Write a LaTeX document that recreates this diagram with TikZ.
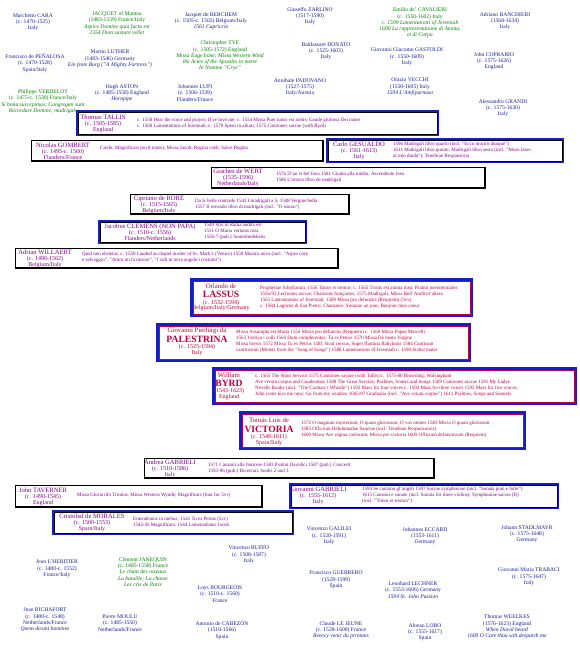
\documentclass[tikz,border=0pt]{standalone}
\usepackage{fontspec}
\setmainfont{Liberation Serif}
\definecolor{cblue}{RGB}{24,32,150}
\definecolor{cgreen}{RGB}{0,130,0}
\definecolor{cpurp}{RGB}{130,0,140}
\definecolor{ccrim}{RGB}{190,0,60}
\definecolor{cbord}{RGB}{20,30,200}
\newcommand\myft{\fontsize{5.6}{6.3}\selectfont}
\newcommand\mydet{\fontsize{5}{6}\selectfont}
\newcommand\mybd{\fontsize{6}{6}\selectfont}
\newcommand\mybn{\fontsize{6.6}{6}\selectfont}
\newcommand\myfirst{\fontsize{6.8}{6.8}\selectfont}
\newcommand\mybig{\fontsize{9.6}{9.6}\selectfont\bfseries}
\begin{document}
\begin{tikzpicture}[x=1pt,y=-1pt,
  free/.style={align=center,inner sep=0pt,text=cblue,font=\myft},
  gfree/.style={free,text=cgreen},
  bname/.style={align=center,inner sep=0pt,text=cpurp,font=\mybd},
  btext/.style={align=left,anchor=west,inner sep=0pt,text=cpurp,font=\mydet},
  rname/.style={align=center,inner sep=0pt,text=ccrim,font=\mybd},
  rtext/.style={align=left,anchor=west,inner sep=0pt,text=ccrim,font=\mydet},
  plainbox/.style={draw=black,line width=1.2pt,anchor=north west,inner sep=0pt},
  bluebox/.style={draw=cbord,line width=2.6pt,anchor=north west,inner sep=0pt},
  inblack/.style={draw=black,line width=0.8pt},
  inred/.style={draw=ccrim,line width=0.9pt}]
\useasboundingbox (0,0) rectangle (579,651);
\fill[white] (0,0) rectangle (579,651);

% ---------- free names, top ----------
\node[free] (cara) at (33,22) {Marchetto CARA\\(c. 1470-1525)\\Italy};
\node[gfree] (jacq) at (117,23) {JACQUET of Mantua\\(1483-1559) France/Italy\\\textit{Aspice Domine quia facta est}\\\textit{1554 Dum vastare vellet}};
\node[free] (berch) at (211,21) {Jacquet de BERCHEM\\(c. 1505-c. 1565) Belgium/Italy\\\textit{1561 Capriccio}};
\node[free] (zarl) at (310,16) {Gioseffo ZARLINO\\(1517-1590)\\Italy};
\node[gfree] (caval) at (420,23) {Emilio de' CAVALIERI\\(c. 1550-1602) Italy\\\textit{c. 1599 Lamentations of Jeremiah}\\\textit{1600 La rappresentatione di Anima,}\\\textit{et di Corpo}};
\node[free] (banch) at (505,21) {Adriano BANCHIERI\\(1568-1634)\\Italy};
\node[free] (penal) at (35,63) {Francisco de PEÑALOSA\\(c. 1470-1528)\\Spain/Italy};
\node[free] (luth) at (110,59) {Martin LUTHER\\(1483-1546) Germany\\\textit{Ein feste Burg ("A Mighty Fortress")}};
\node[gfree] (tye) at (220,56) {Christopher TYE\\(c. 1505-1572) England\\\textit{Missa Euge bone; Missa Western Wind}\\\textit{the Actes of the Apostles in metre}\\\textit{In Nomine "Crye"}};
\node[free] (donato) at (326,51) {Baldassare DONATO\\(c. 1525-1603)\\Italy};
\node[free] (gast) at (407,57) {Giovanni Giacomo GASTOLDI\\(c. 1550-1609)\\Italy};
\node[free] (copr) at (494,61) {John COPRARIO\\(c. 1575-1626)\\England};
\node[gfree] (verd) at (43,101.5) {Philippe VERDELOT\\(c. 1475-c. 1530) France/Italy\\\textit{Si bona suscepimus; Congregati sunt}\\\textit{Recordare Domine; madrigals}};
\node[free] (aston) at (122,93) {Hugh ASTON\\(c. 1485-1558) England\\\textit{Hornpipe}};
\node[free] (lupi) at (195,93) {Johannes LUPI\\(c. 1506-1539)\\Flanders/France};
\node[free] (padov) at (300,87) {Annibale PADOVANO\\(1527-1575)\\Italy/Austria};
\node[free] (vecchi) at (410,87) {Orazio VECCHI\\(1550-1605) Italy\\\textit{1594 L'Amfiparnaso}};
\node[free] (grandi) at (503,108) {Alessandro GRANDI\\(c. 1575-1630)\\Italy};

% ---------- boxes ----------
% Tallis
\node[bluebox,minimum width=360.4pt,minimum height=23.4pt] (tallisB) at (76.3,110.3) {};
\draw[inblack] ([shift={(1.7pt,-1.7pt)}]tallisB.north west) rectangle ([shift={(-1.7pt,1.7pt)}]tallisB.south east);
\node[bname] (tallisN) at (103,124) {{\mybn Thomas TALLIS}\\(c. 1505-1585)\\England};
\node[btext] (tallisT) at (137,123) {c. 1550 Hear the voice and prayer; If ye love me; c. 1554 Missa Puer natus est nobis; Gaude gloriosa Dei mater\\c. 1560 Lamentations of Jeremiah; c. 1570 Spem in alium; 1575 Cantiones sacrae (with Byrd)};

% Gombert
\node[plainbox,minimum width=291.8pt,minimum height=20.8pt] (gombB) at (30.6,139.6) {};
\node[bname] (gombN) at (63,151.5) {{\mybn Nicolas GOMBERT}\\(c. 1495-c. 1560)\\Flanders/France};
\node[btext] (gombT) at (100,148.5) {Credo; Magnificats (on 8 tones); Missa Jacob; Regina caeli; Salve Regina};

% Gesualdo
\node[bluebox,minimum width=235.4pt,minimum height=22.4pt] (gesB) at (326.3,138.3) {};
\draw[inblack] ([shift={(1.7pt,-1.7pt)}]gesB.north west) rectangle ([shift={(-1.7pt,1.7pt)}]gesB.south east);
\node[bname] (gesN) at (359,151) {{\mybn Carlo GESUALDO}\\(c. 1561-1613)\\Italy};
\node[btext] (gesT) at (393,150) {1596 Madrigali libro quarto (incl. "Ecco morirò dunque")\\1611 Madrigali libro quinto; Madrigali libro sesto (incl. "Moro lasso\\al mio duolo"); Tenebrae Responsoria};

% Wert
\node[plainbox,minimum width=273.8pt,minimum height=20.8pt] (wertB) at (210.6,166.6) {};
\node[bname] (wertN) at (238,178) {{\mybn Giaches de WERT}\\(1535-1596)\\Netherlands/Italy};
\node[btext] (wertT) at (276,177) {1576 D'un sì bel foco 1581 Giunto alla tomba; Ascendente Jesu\\1586 L'ottavo libro de madrigali};

% Rore
\node[plainbox,minimum width=218.8pt,minimum height=19.8pt] (roreB) at (129.6,193.6) {};
\node[bname] (roreN) at (159,205) {{\mybn Cipriano de RORE}\\(c. 1515-1565)\\Belgium/Italy};
\node[btext] (roreT) at (195,204.5) {Da le belle contrade 1542 I madrigali a 5; 1548 Vergine bella\\1557 Il secondo libro di madrigali (incl. "O sonno")};

% Clemens
\node[bluebox,minimum width=206.4pt,minimum height=21.4pt] (clemB) at (98.3,220.3) {};
\draw[inblack] ([shift={(1.7pt,-1.7pt)}]clemB.north west) rectangle ([shift={(-1.7pt,1.7pt)}]clemB.south east);
\node[bname] (clemN) at (150,232.5) {{\mybn Jacobus CLEMENS (NON PAPA)}\\(c. 1510-c. 1556)\\Flanders/Netherlands};
\node[btext] (clemT) at (204,231.5) {1549 Vox in Rama audita est\\1551 O Maria vernans rosa\\1556-7 (pub.) Souterliedekens};

% Willaert
\node[plainbox,minimum width=322.8pt,minimum height=19.8pt] (willB) at (14.6,247.6) {};
\node[bname] (willN) at (45,259) {{\mybn Adrian WILLAERT}\\(c. 1490-1562)\\Belgium/Italy};
\node[btext] (willT) at (82,257.5) {Quid non ebrietas; c. 1550 Lauded as chapel master of St. Mark's (Venice) 1559 Musica nova (incl. "Aspro core\\e selvaggio", "Amor mi fa morire", "I vidi in terra angelici costumi")};

% Lassus
\node[bluebox,minimum width=280.4pt,minimum height=36.4pt] (lasB) at (190.3,278.3) {};
\draw[inred] ([shift={(2.8pt,-2.8pt)}]lasB.north west) rectangle ([shift={(-2.8pt,2.8pt)}]lasB.south east);
\node[rname,font=\myfirst] (lasN1) at (221,286) {Orlando de};
\node[rname,font=\mybig] (lasN2) at (221,294.5) {LASSUS};
\node[rname] (lasN3) at (221,303) {(c. 1532-1594)};
\node[rname] (lasN4) at (221,308.5) {Belgium/Italy/Germany};
\node[rtext] (lasT) at (260,297.5) {Prophetiae Sibyllarum; 1556 Timor et tremor; c. 1565 Tristis est anima mea; Psalmi poenitentiales\\1556/92 Lectiones sacrae; Chansons françaises; 1575 Madrigali; Missa Bell'Amfitrit'altera\\1565 Lamentations of Jeremiah; 1589 Missa pro defunctis (Requiem) (5vv)\\c. 1584 Lagrime di San Pietro; Chansons: Susanne un jour; Bonjour mon coeur};

% Palestrina
\node[bluebox,minimum width=312.4pt,minimum height=36.4pt] (palB) at (156.3,323.3) {};
\draw[inred] ([shift={(2.8pt,-2.8pt)}]palB.north west) rectangle ([shift={(-2.8pt,2.8pt)}]palB.south east);
\node[rname,font=\myfirst] (palN1) at (197,330.5) {Giovanni Pierluigi da};
\node[rname,font=\mybig] (palN2) at (197,339.5) {PALESTRINA};
\node[rname] (palN3) at (197,347.5) {(c. 1525-1594)};
\node[rname] (palN4) at (197,353) {Italy};
\node[rtext] (palT) at (236,341.5) {Missa Assumpta est Maria 1554 Missa pro defunctis (Requiem) c. 1560 Missa Papae Marcelli\\1563 Vestiva i colli 1569 Dum complerentur; Tu es Petrus 1570 Missa De beata Virgine\\Missa brevis 1572 Missa Tu es Petrus 1581 Sicut cervus; Super flumina Babylonis 1584 Canticum\\canticorum (Motets from the "Song of Songs") 1588 Lamentations of Jeremiah c. 1590 Stabat mater};

% Byrd
\node[bluebox,minimum width=362.4pt,minimum height=35.4pt] (byrdB) at (212.3,367.3) {};
\draw[inred] ([shift={(2.8pt,-2.8pt)}]byrdB.north west) rectangle ([shift={(-2.8pt,2.8pt)}]byrdB.south east);
\node[rname,font=\myfirst] (byrdN1) at (229,375.5) {William};
\node[rname,font=\mybig] (byrdN2) at (229,383.5) {BYRD};
\node[rname] (byrdN3) at (229,391.5) {(1543-1623)};
\node[rname] (byrdN4) at (229,397) {England};
\node[rtext] (byrdT) at (255,385.5) {c. 1565 The Short Service 1575 Cantiones sacrae (with Tallis) c. 1575-80 Browning; Walsingham\\Ave verum corpus and Gaudeamus 1588 The Great Service; Psalmes, Sonets and Songs 1589 Cantiones sacrae 1591 My Ladye\\Nevells Booke (incl. "The Carman's Whistle") 1592 Mass for four voices c. 1593 Mass for three voices 1595 Mass for five voices;\\John come kiss me now; Go from my window 1605/07 Gradualia (incl. "Ave verum corpus") 1611 Psalmes, Songs and Sonnets};

% Victoria
\node[bluebox,minimum width=284.4pt,minimum height=36.4pt] (vicB) at (239.3,411.3) {};
\draw[inred] ([shift={(2.8pt,-2.8pt)}]vicB.north west) rectangle ([shift={(-2.8pt,2.8pt)}]vicB.south east);
\node[rname,font=\myfirst] (vicN1) at (269,420) {Tomás Luis de};
\node[rname,font=\mybig] (vicN2) at (269,429) {VICTORIA};
\node[rname] (vicN3) at (269,437.5) {(c. 1548-1611)};
\node[rname] (vicN4) at (269,443) {Spain/Italy};
\node[rtext] (vicT) at (301,429.5) {1572 O magnum mysterium; O quam gloriosum; O vos omnes 1583 Missa O quam gloriosum\\1585 Officium Hebdomadae Sanctae (incl. Tenebrae Responsories)\\1600 Missa Ave regina caelorum; Missa pro victoria 1605 Officium defunctorum (Requiem)};

% Andrea Gabrieli
\node[plainbox,minimum width=289.8pt,minimum height=19.8pt] (agabB) at (143.6,457.6) {};
\node[bname] (agabN) at (170,469) {{\mybn Andrea GABRIELI}\\(c. 1510-1586)\\Italy};
\node[btext] (agabT) at (208,468) {1571 Canzoni alla francese 1583 Psalmi Davidici 1587 (pub.) Concerti\\1593-96 (pub.) Ricercari, books 2 and 3};

% Taverner
\node[plainbox,minimum width=246.8pt,minimum height=21.8pt] (tavB) at (14.6,484.6) {};
\node[bname] (tavN) at (43,497) {{\mybn John TAVERNER}\\(c. 1490-1545)\\England};
\node[btext] (tavT) at (77,495.5) {Missa Gloria tibi Trinitas; Missa Western Wynde; Magnificats (four for 5vv)};

% Giovanni Gabrieli
\node[bluebox,minimum width=267.4pt,minimum height=23.4pt] (ggabB) at (289.3,483.3) {};
\draw[inblack] ([shift={(1.7pt,-1.7pt)}]ggabB.north west) rectangle ([shift={(-1.7pt,1.7pt)}]ggabB.south east);
\node[bname] (ggabN) at (318,496) {{\mybn Giovanni GABRIELI}\\(c. 1555-1612)\\Italy};
\node[btext] (ggabT) at (362,495) {1593 Se cantano gl'angeli 1597 Sacrae symphoniae (incl. "Sonata pian e forte")\\1615 Canzoni e sonate (incl. Sonata for three violins); Symphoniae sacrae (II)\\(incl. "Timor et tremor")};

% Morales
\node[bluebox,minimum width=239.4pt,minimum height=22.4pt] (morB) at (52.3,510.3) {};
\draw[inblack] ([shift={(1.7pt,-1.7pt)}]morB.north west) rectangle ([shift={(-1.7pt,1.7pt)}]morB.south east);
\node[bname] (morN) at (92,523) {{\mybn Cristóbal de MORALES}\\(c. 1500-1553)\\Spain/Italy};
\node[btext] (morT) at (133,522) {Emendemus in melius; 1541 Tu es Petrus (5vv)\\1542/45 Magnificats; 1544 Lamentabatur Jacob};

% ---------- free names, bottom ----------
\node[free] (galil) at (329,536) {Vincenzo GALILEI\\(c. 1520-1591)\\Italy};
\node[free] (eccard) at (425,536) {Johannes ECCARD\\(1553-1611)\\Germany};
\node[free] (stadl) at (527,534) {Johann STADLMAYR\\(c. 1575-1648)\\Germany};
\node[free] (ruffo) at (249,555) {Vincenzo RUFFO\\(c. 1508-1587)\\Italy};
\node[free] (lher) at (57,569) {Jean L'HERITIER\\(c. 1480-c. 1552)\\France/Italy};
\node[gfree] (janeq) at (143,572) {Clément JANEQUIN\\(c. 1485-1558) France\\\textit{Le chant des oiseaux}\\\textit{La bataille; La chasse}\\\textit{Les cris de Paris}};
\node[free] (bourg) at (220,594) {Loys BOURGEOIS\\(c. 1510-c. 1560)\\France};
\node[free] (guerr) at (336,580) {Francisco GUERRERO\\(1528-1599)\\Spain};
\node[free] (lechn) at (413,590) {Leonhard LECHNER\\(c. 1553-1606) Germany\\\textit{1594 St. John Passion}};
\node[free] (trab) at (529,577) {Giovanni Maria TRABACI\\(c. 1575-1647)\\Italy};
\node[free] (richa) at (45,620) {Jean RICHAFORT\\(c. 1480-c. 1548)\\Netherlands/France\\\textit{Quem dicunt homines}};
\node[free] (moulu) at (120,623) {Pierre MOULU\\(c. 1485-1550)\\Netherlands/France};
\node[free] (cabez) at (222,630) {Antonio de CABEZÓN\\(1510-1566)\\Spain};
\node[free] (lejeu) at (341,630) {Claude LE JEUNE\\(c. 1528-1600) France\\\textit{Revecy venir du printans}};
\node[free] (lobo) at (425,632) {Alonso LOBO\\(c. 1555-1617)\\Spain};
\node[free] (weelk) at (507,627) {Thomas WEELKES\\(1576-1623) England\\\textit{When David heard}\\\textit{1600 O Care thou wilt despatch me}};
\end{tikzpicture}
\end{document}
